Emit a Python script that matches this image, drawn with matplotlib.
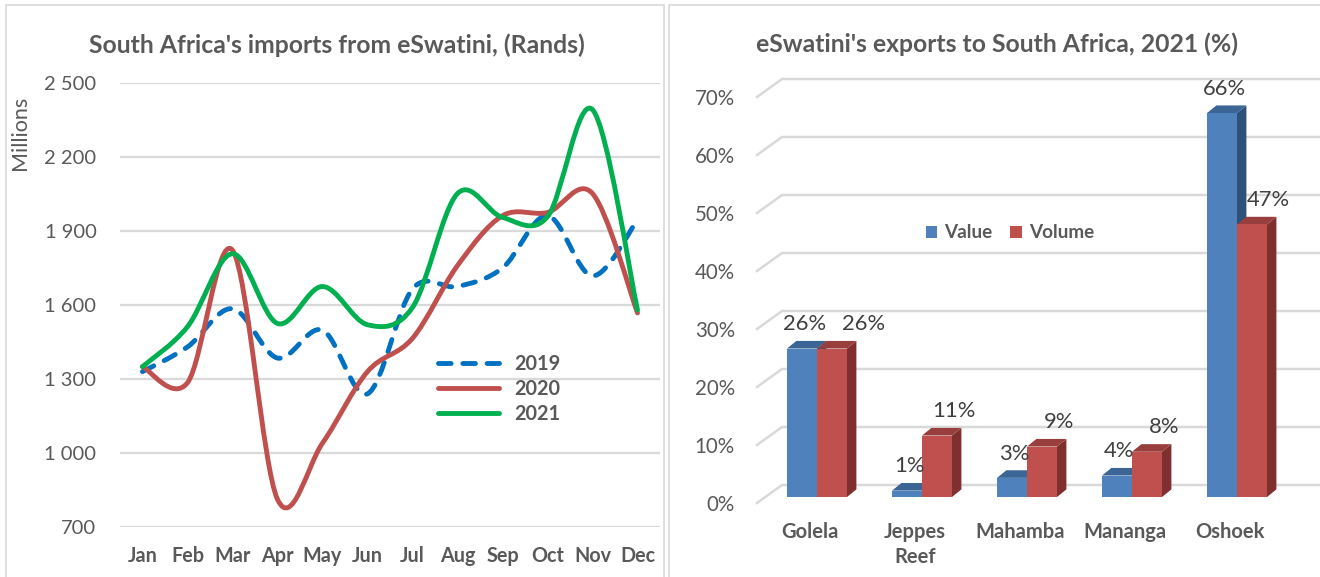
import numpy as np
import matplotlib
matplotlib.use("Agg")
import matplotlib.pyplot as plt
from matplotlib.path import Path
from matplotlib.patches import PathPatch, Polygon, Rectangle, Patch
from matplotlib.lines import Line2D

# ---------------- data ----------------
months = ["Jan", "Feb", "Mar", "Apr", "May", "Jun", "Jul", "Aug", "Sep", "Oct", "Nov", "Dec"]
imports_2019 = [1330, 1430, 1585, 1385, 1498, 1240, 1665, 1675, 1750, 1962, 1718, 1945]
imports_2020 = [1350, 1285, 1822, 812, 1040, 1330, 1465, 1760, 1962, 1975, 2052, 1568]
imports_2021 = [1350, 1512, 1808, 1525, 1675, 1520, 1590, 2052, 1955, 1958, 2392, 1580]
y_ticks = [700, 1000, 1300, 1600, 1900, 2200, 2500]
y_tick_labels = ["700", "1 000", "1 300", "1 600", "1 900", "2 200", "2 500"]

posts = ["Golela", "Jeppes\nReef", "Mahamba", "Mananga", "Oshoek"]
share_value = [25.6, 1.1, 3.3, 3.7, 66.2]
share_volume = [25.6, 10.6, 8.7, 7.8, 47.0]
pct_ticks = [0, 10, 20, 30, 40, 50, 60, 70]

# ---------------- style ----------------
TXT = "#595959"
GRID = "#D9D9D9"
C19, C20, C21 = "#0070C0", "#C0504D", "#00B050"
FONT = "Lato"
plt.rcParams["font.family"] = [FONT, "DejaVu Sans"]

W, H = 1320, 577
fig = plt.figure(figsize=(W / 100, H / 100), dpi=100)


def fx(px):
    return px / W


def fy(py):
    return 1 - py / H


# panel borders
fig.patches.append(Rectangle((fx(6), fy(600)), fx(658), fy(5) - fy(600), transform=fig.transFigure,
                             fill=False, ec=GRID, lw=1.2))
fig.patches.append(Rectangle((fx(669), fy(600)), fx(700), fy(5) - fy(600), transform=fig.transFigure,
                             fill=False, ec=GRID, lw=1.2))


def smooth_path(x, y):
    pts = np.column_stack([x, y]).astype(float)
    n = len(pts)
    verts = [pts[0]]
    codes = [Path.MOVETO]
    for i in range(n - 1):
        p0 = pts[i - 1] if i > 0 else pts[i]
        p1 = pts[i]
        p2 = pts[i + 1]
        p3 = pts[i + 2] if i + 2 < n else pts[i + 1]
        verts += [p1 + (p2 - p0) / 6.0, p2 - (p3 - p1) / 6.0, p2]
        codes += [Path.CURVE4] * 3
    return Path(verts, codes)


# ---------------- left chart ----------------
axL = fig.add_axes([fx(120), fy(527), fx(660) - fx(120), fy(83) - fy(527)])
axL.set_xlim(-0.5, len(months) - 0.5)
axL.set_ylim(y_ticks[0], y_ticks[-1])
for s in axL.spines.values():
    s.set_visible(False)
axL.set_yticks(y_ticks)
axL.set_yticklabels(y_tick_labels)
axL.set_xticks(range(len(months)))
axL.set_xticklabels(months, fontweight="bold")
axL.tick_params(axis="y", length=0, pad=17, labelsize=14.5, labelcolor=TXT)
axL.tick_params(axis="x", length=0, pad=13.5, labelsize=14.2, labelcolor=TXT)
axL.grid(axis="y", color=GRID, lw=1.6)
axL.set_axisbelow(True)

xi = np.arange(len(months))
lw = 3.5
DASH = (0, (2.6, 2.4))
series = [(imports_2019, C19, True), (imports_2020, C20, False), (imports_2021, C21, False)]
handles = []
for vals, col, dashed in series:
    pp = PathPatch(smooth_path(xi, vals), fill=False, ec=col, lw=lw, capstyle="round",
                   joinstyle="round")
    if dashed:
        pp.set_linestyle(DASH)
    axL.add_patch(pp)
    h = Line2D([], [], color=col, lw=lw, solid_capstyle="round", dash_capstyle="round",
               ls=DASH if dashed else "-")
    handles.append(h)

fig.text(fx(20), fy(133), "Millions", rotation=90, ha="center", va="center", fontsize=15.5,
         color=TXT)

leg = fig.legend(handles, ["2019", "2020", "2021"], loc="upper left",
                 bbox_to_anchor=(fx(438), fy(354)), bbox_transform=fig.transFigure,
                 frameon=False, borderpad=0, borderaxespad=0, handlelength=3.05,
                 handletextpad=0.8, labelspacing=0.24,
                 prop={"family": FONT, "weight": "bold", "size": 14.3})
for t in leg.get_texts():
    t.set_color(TXT)

fig.text(fx(337), fy(45), "South Africa's imports from eSwatini, (Rands)", ha="center", va="center",
         fontsize=17.8, fontweight="bold", color=TXT)

# ---------------- right chart (3-D look) ----------------
PXC, PYP = 105.0, 5.8          # pixels per category / per percent
x0px, base_px = 817.0, 497.0    # first category centre and bar baseline (pixels)
axR = fig.add_axes([fx(757), fy(510), fx(1320) - fx(757), fy(70) - fy(510)])
axR.set_xlim((757 - x0px) / PXC, (1320 - x0px) / PXC)
axR.set_ylim((base_px - 510) / PYP, (base_px - 70) / PYP)
axR.axis("off")

front_x = (757 - x0px) / PXC
back_x = (782 - x0px) / PXC
front_dy = (base_px - 503) / PYP
back_dy = (base_px - 485) / PYP
x_right = axR.get_xlim()[1]
for v in pct_ticks:
    axR.plot([front_x, back_x, x_right], [v + front_dy, v + back_dy, v + back_dy],
             color=GRID, lw=1.8, clip_on=False, zorder=1, solid_joinstyle="miter")
    axR.text((735 - x0px) / PXC, v + front_dy, f"{v}%", ha="right", va="center_baseline",
             fontsize=14.8, color=TXT, clip_on=False)

bw = 30.0 / PXC
ddx, ddy = 9.4 / PXC, 7.6 / PYP
value_cols = ("#4F81BD", "#3A6594", "#2F5078")
volume_cols = ("#C0504D", "#983E3C", "#7E2F2E")


def bar3d(ax, xl, h, cols):
    front, top, side = cols
    xr = xl + bw
    ax.add_patch(Polygon([(xr, 0), (xr + ddx, ddy), (xr + ddx, h + ddy), (xr, h)], closed=True,
                         fc=side, ec="none", zorder=3))
    ax.add_patch(Polygon([(xl, h), (xr, h), (xr + ddx, h + ddy), (xl + ddx, h + ddy)], closed=True,
                         fc=top, ec="none", zorder=3))
    ax.add_patch(Polygon([(xl, 0), (xr, 0), (xr, h), (xl, h)], closed=True,
                         fc=front, ec="none", zorder=3))


for i, (va, vo) in enumerate(zip(share_value, share_volume)):
    bar3d(axR, i - bw, va, value_cols)
    bar3d(axR, i, vo, volume_cols)
    # volume label nudged right; further when it would collide with the value label
    shift = 0.3 if abs(va - vo) < 4 else 0.16
    axR.annotate(f"{va:.0f}%", (i - bw / 2 + 0.02, va), xytext=(0, 17.5), textcoords="offset points",
                 ha="center", va="center", fontsize=15.8, color="#404040", zorder=5)
    axR.annotate(f"{vo:.0f}%", (i + bw / 2 + shift, vo), xytext=(0, 17.5), textcoords="offset points",
                 ha="center", va="center", fontsize=15.8, color="#404040", zorder=5)
    axR.text(i - 0.065, (base_px - 522) / PYP, posts[i], ha="center", va="top", fontsize=14.5,
             fontweight="bold", color=TXT, linespacing=1.3, clip_on=False)

legR = fig.legend([Patch(fc=value_cols[0]), Patch(fc=volume_cols[0])], ["Value", "Volume"],
                  loc="center", bbox_to_anchor=(fx(1010), fy(233)), bbox_transform=fig.transFigure,
                  ncol=2, frameon=False, borderpad=0, handlelength=0.6, handleheight=0.6,
                  handletextpad=0.38, columnspacing=0.95,
                  prop={"family": FONT, "weight": "bold", "size": 13.6})
for t in legR.get_texts():
    t.set_color(TXT)

fig.text(fx(997), fy(44), "eSwatini's exports to South Africa, 2021 (%)", ha="center", va="center",
         fontsize=17.8, fontweight="bold", color=TXT)

fig.savefig("out.png", dpi=100)
